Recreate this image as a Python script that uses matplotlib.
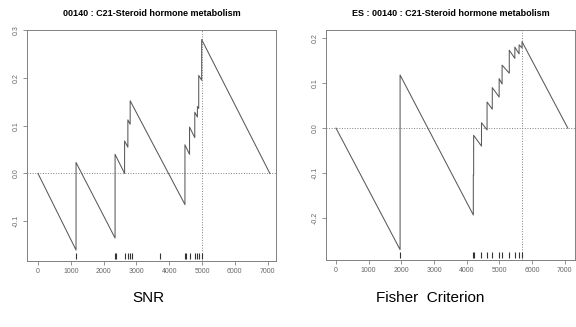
import numpy as np
import matplotlib
matplotlib.use('Agg')
import matplotlib.pyplot as plt

plt.rcParams['font.family'] = ['Liberation Sans', 'DejaVu Sans']

# running score vertices (gene rank, score)
snr_rank = [0, 1160, 1160, 2350, 2350, 2640, 2640, 2740, 2740, 2810, 2810,
            4480, 4480, 4620, 4620, 4780, 4780, 4860, 4860, 4900, 4900,
            4990, 4990, 7070]
snr_score = [0.0, -0.160, 0.023, -0.135, 0.040, 0.000, 0.068, 0.055, 0.112,
             0.103, 0.152, -0.065, 0.060, 0.040, 0.097, 0.075, 0.128, 0.118,
             0.140, 0.136, 0.205, 0.195, 0.280, 0.0]
snr_hits = [1160, 2350, 2370, 2640, 2740, 2810, 2870, 3720, 4480, 4500,
            4620, 4780, 4860, 4900, 4990]
snr_peak = 4990

fc_rank = [0, 1960, 1960, 4200, 4200, 4210, 4210, 4450, 4450, 4620, 4620,
           4780, 4780, 4990, 4990, 5080, 5080, 5300, 5300, 5470, 5470, 5600,
           5600, 5690, 5690, 7090]
fc_score = [0.0, -0.270, 0.118, -0.193, -0.104, -0.104, -0.016, -0.040,
            0.012, -0.004, 0.058, 0.042, 0.090, 0.069, 0.110, 0.098, 0.140,
            0.122, 0.173, 0.155, 0.180, 0.165, 0.185, 0.178, 0.192, 0.0]
fc_hits = [1960, 4200, 4210, 4450, 4620, 4780, 4990, 5080, 5300, 5470,
           5600, 5690]
fc_peak = 5690

xticks = [0, 1000, 2000, 3000, 4000, 5000, 6000, 7000]
snr_yticks = [-0.1, 0.0, 0.1, 0.2, 0.3]
fc_yticks = [-0.2, -0.1, 0.0, 0.1, 0.2]

W, H = 576, 327
fig = plt.figure(figsize=(W / 100, H / 100), dpi=100)

def box(x0, y0, x1, y1):
    return [x0 / W, 1 - y1 / H, (x1 - x0) / W, (y1 - y0) / H]

panels = [
    (box(27, 30, 276, 261), snr_rank, snr_score, snr_hits, snr_peak,
     snr_yticks, (-335, 7256), (-0.183, 0.298),
     '00140 : C21-Steroid hormone metabolism'),
    (box(326, 30, 575, 260), fc_rank, fc_score, fc_hits, fc_peak,
     fc_yticks, (-306, 7310), (-0.293, 0.218),
     'ES : 00140 : C21-Steroid hormone metabolism'),
]

for rect, rk, sc, hits, peak, yt, xl, yl, title in panels:
    ax = fig.add_axes(rect)
    ax.axhline(0, color='0.5', lw=0.7, ls=':')
    ax.axvline(peak, color='0.5', lw=0.7, ls=':')
    ax.plot(rk, sc, color='0.35', lw=0.75)
    ax.vlines(hits, 0.01, 0.035, color='0.2', lw=0.8,
              transform=ax.get_xaxis_transform())
    ax.set_xlim(*xl)
    ax.set_ylim(*yl)
    ax.set_xticks(xticks)
    ax.set_xticklabels([str(v) for v in xticks])
    ax.set_yticks(yt)
    ax.set_yticklabels(['%.1f' % v for v in yt], rotation=90, va='center')
    ax.tick_params(direction='out', length=3, width=0.6, colors='0.5',
                   labelsize=5, labelcolor='0.4', pad=2)
    for s in ax.spines.values():
        s.set_color('0.5')
        s.set_linewidth(0.7)
    ax.set_title(title, fontsize=6.5, fontweight='bold', pad=10)

fig.text(148 / W, 1 - 298 / H, 'SNR', fontsize=11, ha='center', va='center')
fig.text(430 / W, 1 - 298 / H, 'Fisher  Criterion', fontsize=11,
         ha='center', va='center')

fig.savefig('out.png', dpi=100)
